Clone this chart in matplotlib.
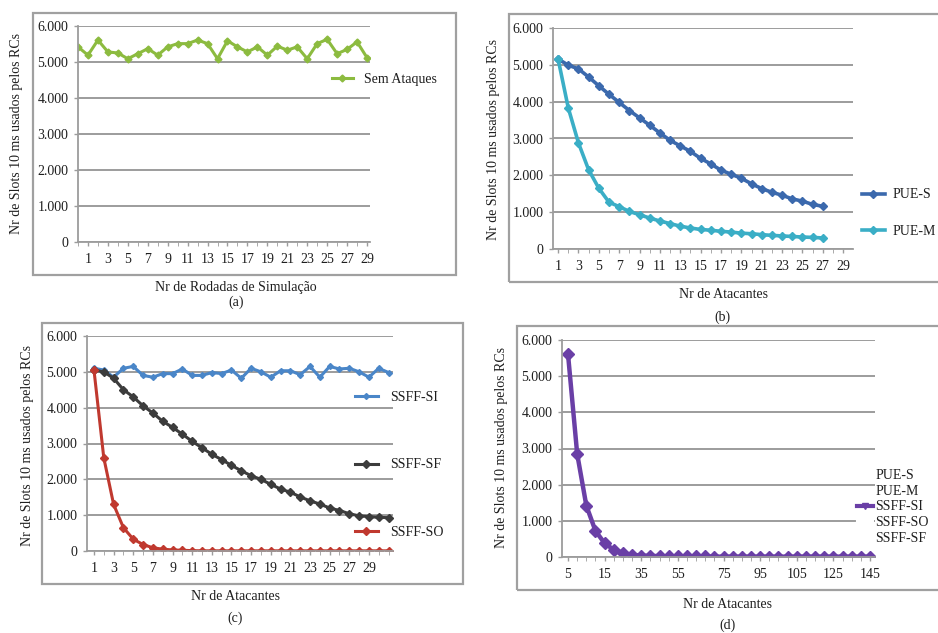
import numpy as np
import matplotlib
matplotlib.use('Agg')
import matplotlib.pyplot as plt
from matplotlib.lines import Line2D
from matplotlib.patches import Rectangle
from matplotlib.ticker import FuncFormatter, MultipleLocator

plt.rcParams['font.family'] = ['Liberation Serif', 'DejaVu Serif']

# ---- data ----
# (a) simulation runs without attack
runs = np.arange(30)
sem_ataques = [5420, 5190, 5610, 5280, 5250, 5090, 5230, 5370, 5190, 5420,
               5510, 5510, 5610, 5510, 5090, 5590, 5420, 5280, 5420, 5190,
               5440, 5330, 5420, 5090, 5510, 5630, 5230, 5350, 5560, 5120]

# (b) PUE attacks
atac_b = np.arange(1, 28)
pue_s = [5160, 4990, 4890, 4670, 4430, 4200, 3980, 3760, 3560, 3360,
         3150, 2950, 2800, 2650, 2460, 2310, 2140, 2030, 1920, 1770,
         1640, 1540, 1460, 1360, 1300, 1210, 1160]
pue_m = [5160, 3830, 2880, 2150, 1650, 1270, 1150, 1020, 930, 840,
         760, 690, 620, 570, 530, 510, 480, 460, 430, 415,
         390, 370, 355, 340, 325, 315, 300]

# (c) SSFF attacks
atac_c = np.arange(1, 32)
ssff_si = [5100, 5050, 4850, 5100, 5150, 4900, 4850, 4950, 4950, 5080,
           4900, 4900, 4980, 4950, 5050, 4820, 5100, 5000, 4850, 5030,
           5030, 4920, 5150, 4850, 5150, 5080, 5100, 5000, 4850, 5100, 4980]
ssff_sf = [5050, 5000, 4820, 4500, 4300, 4050, 3850, 3620, 3450, 3260,
           3060, 2880, 2700, 2550, 2390, 2240, 2100, 2000, 1860, 1730,
           1640, 1510, 1400, 1310, 1200, 1130, 1040, 980, 960, 940, 930]
ssff_so = [5050, 2600, 1300, 650, 330, 180, 90, 50, 30, 20,
           10, 5, 5, 5, 5, 5, 5, 5, 5, 5,
           5, 5, 5, 5, 5, 5, 5, 5, 5, 5, 5]

# (d) all attacks, only SSFF-SI visible
cat_d = np.arange(34)
ssff_si_d = [5600, 2850, 1420, 720, 380, 200, 110, 60, 40, 30,
             25, 20, 20, 15, 15, 15, 10, 10, 10, 10,
             10, 10, 10, 10, 10, 10, 10, 10, 10, 10,
             10, 10, 10, 10]
ticks_d = [0, 4, 8, 12, 17, 21, 25, 29, 33]
labels_d = ['5', '15', '35', '55', '75', '95', '105', '125', '145']
legend_d = ['PUE-S', 'PUE-M', 'SSFF-SI', 'SSFF-SO', 'SSFF-SF']

ylabel = 'Nr de Slots 10 ms usados pelos RCs'
fs = 10
grid_c = '#9c9c9c'
txt_c = '#1e1e1e'

W, H = 938, 633
fig = plt.figure(figsize=(W / 100, H / 100), dpi=100)


def px_axes(l, r, t, b):
    return fig.add_axes([l / W, 1 - b / H, (r - l) / W, (b - t) / H])


def box(l, r, t, b):
    fig.patches.append(Rectangle((l / W, 1 - b / H), (r - l) / W, (b - t) / H,
                                 transform=fig.transFigure, fill=False,
                                 edgecolor='#a0a0a0', lw=1.6))


def excel_style(ax, xticks, xlabels):
    ax.set_ylim(0, 6000)
    ax.yaxis.set_major_locator(MultipleLocator(1000))
    ax.yaxis.set_major_formatter(FuncFormatter(lambda v, p: f'{int(v):,}'.replace(',', '.')))
    ax.grid(axis='y', color=grid_c, lw=1.4)
    ax.set_axisbelow(True)
    for s in ['top', 'right']:
        ax.spines[s].set_visible(False)
    for s in ['left', 'bottom']:
        ax.spines[s].set_color(grid_c)
        ax.spines[s].set_linewidth(1.3)
    ax.set_xticks(xticks)
    ax.set_xticklabels(xlabels)
    ax.tick_params(axis='both', labelsize=fs, colors=grid_c, labelcolor=txt_c,
                   length=3, width=1)
    ax.tick_params(axis='x', pad=5)
    ax.tick_params(axis='y', pad=4)


def fig_text(x, y, s, **kw):
    fig.text(x / W, 1 - y / H, s, fontsize=fs, color=txt_c, ha='center', va='center', **kw)


def fig_legend(ax, handles, labels, x, y, hl, tp, ls):
    ax.legend(handles, labels, loc='center left', bbox_to_anchor=(x / W, 1 - y / H),
              bbox_transform=fig.transFigure, frameon=False, borderpad=0,
              borderaxespad=0, handlelength=hl, handletextpad=tp, labelspacing=ls,
              fontsize=fs, labelcolor=txt_c)


odd = list(range(1, 30, 2))

# ---- (a) ----
box(33, 456, 13, 275)
ax = px_axes(78, 370, 26, 242)
ln_a, = ax.plot(runs, sem_ataques, color='#8cbb3f', lw=2.2, marker='D', ms=3.5)
ax.set_xlim(0, 29.3)
excel_style(ax, odd, [str(v) for v in odd])
ax.set_xticks(np.arange(0, 30), minor=True)
ax.tick_params(axis='x', which='minor', length=3, colors=grid_c)
fig_legend(ax, [ln_a], ['Sem Ataques'], 332, 79, 1.5, 0.8, 0.5)
fig_text(17, 134, ylabel, rotation=90)
fig_text(236, 288, 'Nr de Rodadas de Simulação')
fig_text(236, 302, '(a)')

# ---- (b) ----
box(509, 945, 14, 282)
ax = px_axes(553, 853, 28, 249)
ln_s, = ax.plot(atac_b, pue_s, color='#3b69ad', lw=2.6, marker='D', ms=4.5)
ln_m, = ax.plot(atac_b, pue_m, color='#3aaec6', lw=2.6, marker='D', ms=4.5)
ax.set_xlim(0.5, 29.97)
excel_style(ax, odd, [str(v) for v in odd])
ax.set_xticks(np.arange(1, 30), minor=True)
ax.tick_params(axis='x', which='minor', length=3, colors=grid_c)
fig_legend(ax, [ln_s, ln_m], ['PUE-S', 'PUE-M'], 862, 213, 1.65, 0.55, 1.66)
fig_text(493, 140, ylabel, rotation=90)
fig_text(723, 295, 'Nr de Atacantes')
fig_text(722, 317, '(b)')

# ---- (c) ----
box(42, 463, 323, 584)
ax = px_axes(87, 393, 336, 551)
ln_si, = ax.plot(atac_c, ssff_si, color='#4a86c8', lw=2.2, marker='D', ms=3)
ln_sf, = ax.plot(atac_c, ssff_sf, color='#3c3c3c', lw=2.2, marker='D', ms=4.5)
ln_so, = ax.plot(atac_c, ssff_so, color='#c0392f', lw=2.2, marker='D', ms=4.5)
ax.set_xlim(0.29, 31.45)
excel_style(ax, odd, [str(v) for v in odd])
ax.set_xticks(np.arange(1, 32), minor=True)
ax.tick_params(axis='x', which='minor', length=3, colors=grid_c)
fig_legend(ax, [ln_si, ln_sf, ln_so], ['SSFF-SI', 'SSFF-SF', 'SSFF-SO'],
           355, 465, 1.65, 0.85, 3.9)
fig_text(27, 445, ylabel, rotation=90)
fig_text(235, 597, 'Nr de Atacantes')
fig_text(235, 618, '(c)')

# ---- (d) ----
box(517, 945, 326, 590)
ax = px_axes(562, 875, 340, 557)
ln_d, = ax.plot(cat_d, ssff_si_d, color='#6a3fa6', lw=3.2, marker='D', ms=6.5)
ax.set_xlim(-0.66, 33.55)
excel_style(ax, ticks_d, labels_d)
ax.set_xticks(cat_d, minor=True)
ax.tick_params(axis='x', which='minor', length=3, colors=grid_c)
handles_d = [Line2D([], [], color='white') for _ in legend_d]
handles_d[2] = Line2D([], [], color='#6a3fa6', lw=3.0, marker='v', ms=5)
fig_legend(ax, handles_d, legend_d, 857, 507, 1.15, 0.15, 0.2)
fig_text(501, 448, ylabel, rotation=90)
fig_text(727, 605, 'Nr de Atacantes')
fig_text(727, 625, '(d)')

fig.savefig('out.png', dpi=100, facecolor='white')
